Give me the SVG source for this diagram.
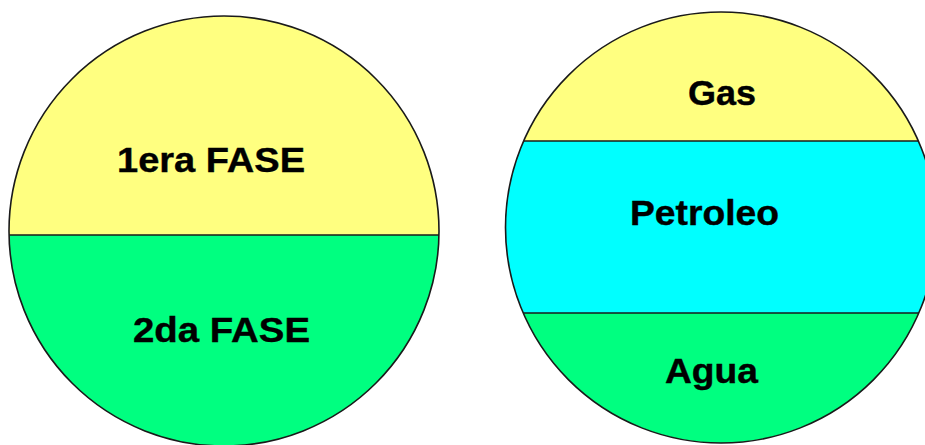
<svg xmlns="http://www.w3.org/2000/svg" width="925" height="445" viewBox="0 0 925 445">
  <style>
    .yellow { fill: #FFFF80; }
    .green { fill: #00FF80; }
    .cyan { fill: #00FFFF; }
    .outline { fill: none; stroke: #1a1a1a; stroke-width: 1.6; }
    .divider { stroke: #1a1a1a; stroke-width: 1.6; }
    .label { font-family: "Liberation Sans", Arial, sans-serif; font-weight: bold; font-size: 35px; fill: #000; text-anchor: middle; stroke: #000; stroke-width: 0.4; }
  </style>
  <defs>
    <clipPath id="clipLeft"><circle cx="224" cy="231" r="215"/></clipPath>
    <clipPath id="clipRight"><circle cx="721" cy="227.5" r="215.5"/></clipPath>
  </defs>
  <rect width="925" height="445" fill="#ffffff"/>

  <!-- Two-phase sphere -->
  <g id="phases">
    <g clip-path="url(#clipLeft)">
      <rect class="yellow" x="0" y="0" width="460" height="235"/>
      <rect class="green" x="0" y="235" width="460" height="220"/>
      <line class="divider" x1="0" y1="235" x2="460" y2="235"/>
    </g>
    <circle class="outline" cx="224" cy="231" r="215"/>
    <text class="label" x="211" y="172" textLength="188" lengthAdjust="spacingAndGlyphs">1era FASE</text>
    <text class="label" x="221.5" y="342" textLength="177" lengthAdjust="spacingAndGlyphs">2da FASE</text>
  </g>

  <!-- Reservoir fluid layers -->
  <g id="reservoir">
    <g clip-path="url(#clipRight)">
      <rect class="yellow" x="490" y="0" width="450" height="141"/>
      <rect class="cyan" x="490" y="141" width="450" height="172"/>
      <rect class="green" x="490" y="313" width="450" height="140"/>
      <line class="divider" x1="490" y1="141" x2="940" y2="141"/>
      <line class="divider" x1="490" y1="313" x2="940" y2="313"/>
    </g>
    <circle class="outline" cx="721" cy="227.5" r="215.5"/>
    <text class="label" x="722" y="105" textLength="68" lengthAdjust="spacingAndGlyphs">Gas</text>
    <text class="label" x="704.5" y="225" textLength="149" lengthAdjust="spacingAndGlyphs">Petroleo</text>
    <text class="label" x="711.5" y="383" textLength="93" lengthAdjust="spacingAndGlyphs">Agua</text>
  </g>
</svg>
